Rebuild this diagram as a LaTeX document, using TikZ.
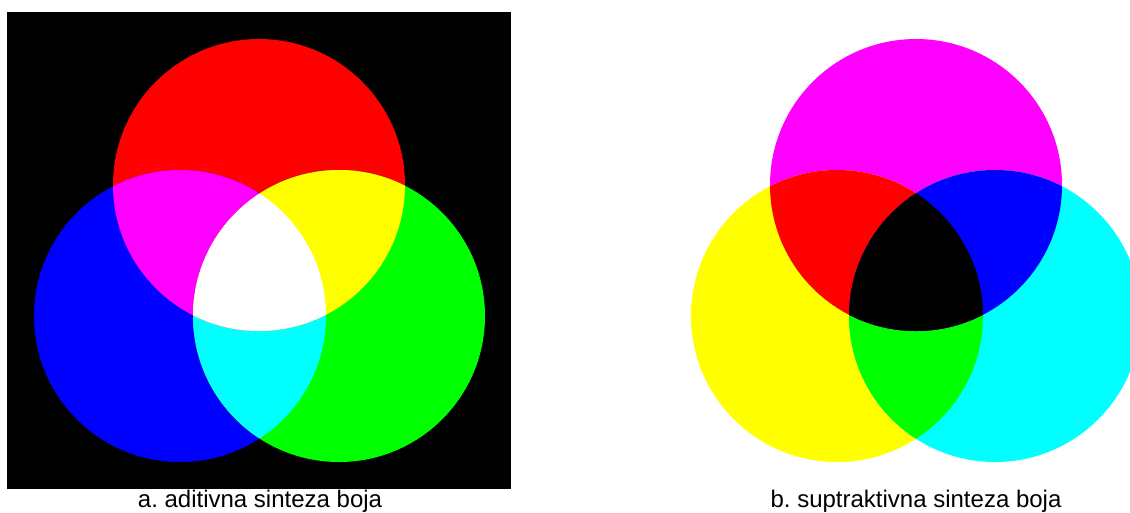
\documentclass[tikz,border=0pt]{standalone}
\usepackage{fontspec}
\setmainfont{Liberation Sans}
\frenchspacing
\definecolor{pR}{RGB}{255,0,0}
\definecolor{pG}{RGB}{0,255,0}
\definecolor{pB}{RGB}{0,0,255}
\definecolor{pC}{RGB}{0,255,255}
\definecolor{pM}{RGB}{255,0,255}
\definecolor{pY}{RGB}{255,255,0}
\tikzset{caption/.style={anchor=base, inner sep=0pt,
    font=\fontsize{18pt}{20pt}\selectfont}}
\begin{document}
\begin{tikzpicture}[x=0.75pt, y=-0.75pt, radius=109.5pt]
  \useasboundingbox (0,0) rectangle (1130,512);
  % a. additive
  \fill[black] (7,12) rectangle (511,489);
  \coordinate (r) at (259,185);
  \coordinate (b) at (180,316);
  \coordinate (g) at (339,316);
  \fill[pR] (r) circle;
  \fill[pB] (b) circle;
  \fill[pG] (g) circle;
  \begin{scope}
    \clip (b) circle;
    \fill[pC] (g) circle;
  \end{scope}
  \begin{scope}
    \clip (r) circle;
    \fill[pM] (b) circle;
    \fill[pY] (g) circle;
    \clip (b) circle;
    \fill[white] (g) circle;
  \end{scope}
  \node[caption] (capA) at (260,507) {a. aditivna sinteza boja};
  % b. subtractive
  \coordinate (m) at (916,185);
  \coordinate (y) at (837,316);
  \coordinate (c) at (995,316);
  \fill[pM] (m) circle;
  \fill[pY] (y) circle;
  \fill[pC] (c) circle;
  \begin{scope}
    \clip (y) circle;
    \fill[pG] (c) circle;
  \end{scope}
  \begin{scope}
    \clip (m) circle;
    \fill[pR] (y) circle;
    \fill[pB] (c) circle;
    \clip (y) circle;
    \fill[black] (c) circle;
  \end{scope}
  \node[caption] (capB) at (916,507) {b. suptraktivna sinteza boja};
\end{tikzpicture}
\end{document}
